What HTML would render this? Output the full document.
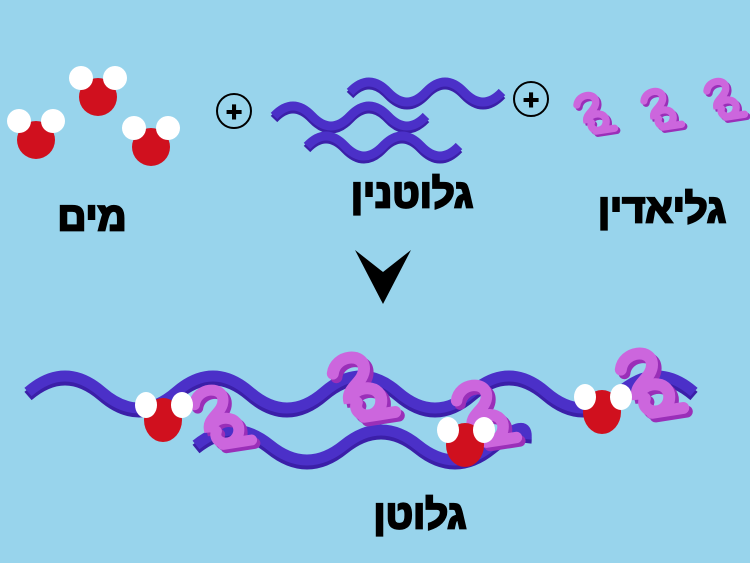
<!DOCTYPE html>
<html><head><meta charset="utf-8"><style>
html,body{margin:0;padding:0;background:#98d4ec;}
svg{display:block}
text{font-family:"Liberation Sans","DejaVu Sans",sans-serif;font-weight:bold;fill:#000;stroke:#000;stroke-width:2.2;}
</style></head><body>
<svg width="750" height="563" viewBox="0 0 750 563" xmlns="http://www.w3.org/2000/svg">
<defs>
<g id="gl">
<path d="M2,9 C3,1 15,0 15,7 C15,13 7,15 9,21 C10,13 24,13 22,22 C20,29 10,27 12,21 M15,27 L28,25" fill="none" stroke="#9a2fb8" stroke-width="5" stroke-linecap="round" transform="translate(1.5,1.5)"/>
<path d="M2,9 C3,1 15,0 15,7 C15,13 7,15 9,21 C10,13 24,13 22,22 C20,29 10,27 12,21 M15,27 L28,25" fill="none" stroke="#cc66dd" stroke-width="5" stroke-linecap="round"/>
</g>
<g id="wat">
<circle cx="0" cy="0" r="19" fill="#d0101e"/>
<circle cx="-17" cy="-19" r="12" fill="#fff"/>
<circle cx="17" cy="-19" r="12" fill="#fff"/>
</g>
<g id="watb">
<ellipse cx="0" cy="0" rx="19" ry="22" fill="#d0101e"/>
<ellipse cx="-17" cy="-15" rx="11" ry="13" fill="#fff"/>
<ellipse cx="19" cy="-15" rx="11" ry="13" fill="#fff"/>
</g>
</defs>
<rect width="750" height="563" fill="#98d4ec"/>
<use href="#wat" x="98" y="97"/>
<use href="#wat" x="36" y="140"/>
<use href="#wat" x="151" y="147"/>
<circle cx="234" cy="111" r="17" fill="none" stroke="#000" stroke-width="2"/>
<text x="234" y="121" font-size="28" text-anchor="middle" style="stroke-width:1">+</text>
<circle cx="531" cy="99" r="17" fill="none" stroke="#000" stroke-width="2"/>
<text x="531" y="109" font-size="28" text-anchor="middle" style="stroke-width:1">+</text>
<g fill="none" stroke-width="9" stroke-linecap="butt">
<path d="M350,92 q19,-20 38,0 t38,0 t38,0 t38,0" stroke="#3b1fa8" transform="translate(0,3)"/>
<path d="M350,92 q19,-20 38,0 t38,0 t38,0 t38,0" stroke="#4b30c8"/>
<path d="M274,116 q19,-20 38,0 t38,0 t38,0 t38,0" stroke="#3b1fa8" transform="translate(0,3)"/>
<path d="M274,116 q19,-20 38,0 t38,0 t38,0 t38,0" stroke="#4b30c8"/>
<path d="M307,146 q19,-20 38,0 t38,0 t38,0 t38,0" stroke="#3b1fa8" transform="translate(0,3)"/>
<path d="M307,146 q19,-20 38,0 t38,0 t38,0 t38,0" stroke="#4b30c8"/>
</g>
<use href="#gl" transform="translate(574,92) scale(1.45)"/>
<use href="#gl" transform="translate(641,88) scale(1.45)"/>
<use href="#gl" transform="translate(704,78) scale(1.45)"/>
<text x="92" y="230" font-size="40" text-anchor="middle" direction="rtl">מים</text>
<text x="412" y="207" font-size="40" text-anchor="middle" direction="rtl">גלוטנין</text>
<text x="662" y="222" font-size="40" text-anchor="middle" direction="rtl">גליאדין</text>
<polygon points="355,250 383,272 411,250 383,304" fill="#000"/>
<g fill="none" stroke-width="11">
<path d="M28,392 q37,-32 74,0 t74,0 t74,0 t74,0 t74,0 t74,0 t74,0 t74,0 t74,0" stroke="#3b1fa8" transform="translate(0,4)"/>
<path d="M28,392 q37,-32 74,0 t74,0 t74,0 t74,0 t74,0 t74,0 t74,0 t74,0 t74,0" stroke="#4b30c8"/>
<path d="M196,445 q37,-30 74,0 t74,0 t74,0 t74,0 t34,-6" stroke="#3b1fa8" transform="translate(0,4)"/>
<path d="M196,445 q37,-30 74,0 t74,0 t74,0 t74,0 t34,-6" stroke="#4b30c8"/>
</g>
<use href="#gl" transform="translate(190,385) scale(2.2)"/>
<use href="#gl" transform="translate(328,352) scale(2.4)"/>
<use href="#gl" transform="translate(452,380) scale(2.3)"/>
<use href="#gl" transform="translate(616,348) scale(2.4)"/>
<use href="#watb" x="163" y="420"/>
<use href="#watb" x="465" y="445"/>
<use href="#watb" x="602" y="412"/>
<text x="420" y="528" font-size="40" text-anchor="middle" direction="rtl">גלוטן</text>
</svg>
</body></html>
